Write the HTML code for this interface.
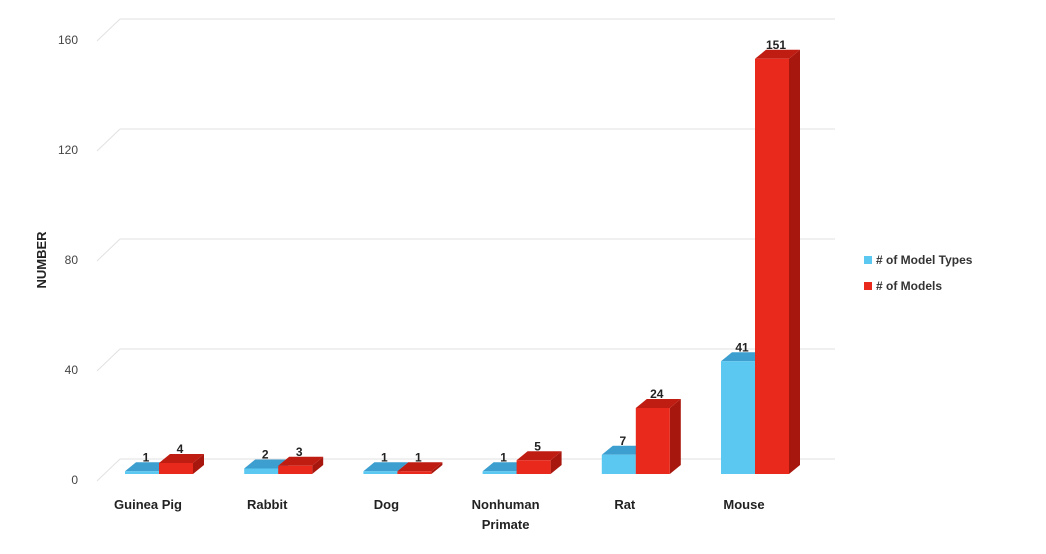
<!DOCTYPE html>
<html><head><meta charset="utf-8"><style>
body{margin:0;background:#fff;width:1046px;height:549px;overflow:hidden;font-family:"Liberation Sans",sans-serif}
</style></head><body>
<svg id="chart" width="1046" height="549" xmlns="http://www.w3.org/2000/svg">
<g id="grid"></g>
<g id="ticks"></g>
<g id="bars"></g>
<g id="xlabels"></g>
<text transform="translate(46,260) rotate(-90)" text-anchor="middle" font-size="13" font-weight="bold" fill="#222">NUMBER</text>
<g>
<g><rect x="864" y="256" width="8" height="8" fill="#5bc8f2"/><text x="876" y="264" font-size="12" font-weight="bold" fill="#333">#   of Model Types</text></g>
<g><rect x="864" y="282" width="8" height="8" fill="#e8291c"/><text x="876" y="290" font-size="12" font-weight="bold" fill="#333">#   of Models</text></g>
</g>
</svg>
<script>
const categories=["Guinea Pig","Rabbit","Dog","Nonhuman Primate","Rat","Mouse"];
const modelTypes=[1,2,1,1,7,41];
const models=[4,3,1,5,24,151];
const yTicks=[0,40,80,120,160];
const NS="http://www.w3.org/2000/svg";
const y0=474,scale=2.75,dx=11,dy=9,bw=34,x0=125,step=119.2;
const yF=v=>y0-v*scale;
function el(t,a,p){const e=document.createElementNS(NS,t);for(const k in a)e.setAttribute(k,a[k]);p.appendChild(e);return e;}
const grid=document.getElementById('grid'),ticks=document.getElementById('ticks'),bars=document.getElementById('bars'),xl=document.getElementById('xlabels');
yTicks.forEach(v=>{
 const g=el('line',{x1:120,x2:835,y1:yF(v)-15,y2:yF(v)-15,stroke:"#e2e2e2","stroke-width":1},grid);
 
 const l=el('line',{x1:97,x2:120,y1:yF(v)+7,y2:yF(v)-15,stroke:"#e2e2e2"},grid);
 
 const t=el('text',{x:78,y:yF(v)+10,"text-anchor":"end","font-size":12,fill:"#444"},ticks);
 t.textContent=v;
 
});
function bar(x,v,front,top,side,name){
 const g=el('g',{},bars);
 
 const yt=yF(v);
 el('polygon',{points:`${x+bw},${yt} ${x+bw+dx},${yt-dy} ${x+bw+dx},${y0-dy} ${x+bw},${y0}`,fill:side},g);
 el('polygon',{points:`${x},${yt} ${x+dx},${yt-dy} ${x+bw+dx},${yt-dy} ${x+bw},${yt}`,fill:top},g);
 el('rect',{x:x,y:yt,width:bw,height:y0-yt,fill:front},g);
 const t=el('text',{x:x+bw/2+4,y:yt-dy-1,"text-anchor":"middle","font-size":12,"font-weight":"bold",fill:"#222"},g);
 t.textContent=v;
}
categories.forEach((c,i)=>{
 const x=x0+i*step;
 bar(x,modelTypes[i],"#5bc8f2","#3d9fcf","#3a8fbf","bar-model-types-"+i);
 bar(x+bw,models[i],"#e8291c","#c01d12","#a8170e","bar-models-"+i);
 const t=el('text',{x:x+bw-11,y:509,"text-anchor":"middle","font-size":13,"font-weight":"bold",fill:"#222"},xl);
 
 const w=c.split(' ');
 if(c==="Nonhuman Primate"){t.textContent=w[0];const t2=el('text',{x:x+bw-11,y:529,"text-anchor":"middle","font-size":13,"font-weight":"bold",fill:"#222"},xl);t2.textContent=w[1];
 }
 else t.textContent=c;
});
</script>
</body></html>
